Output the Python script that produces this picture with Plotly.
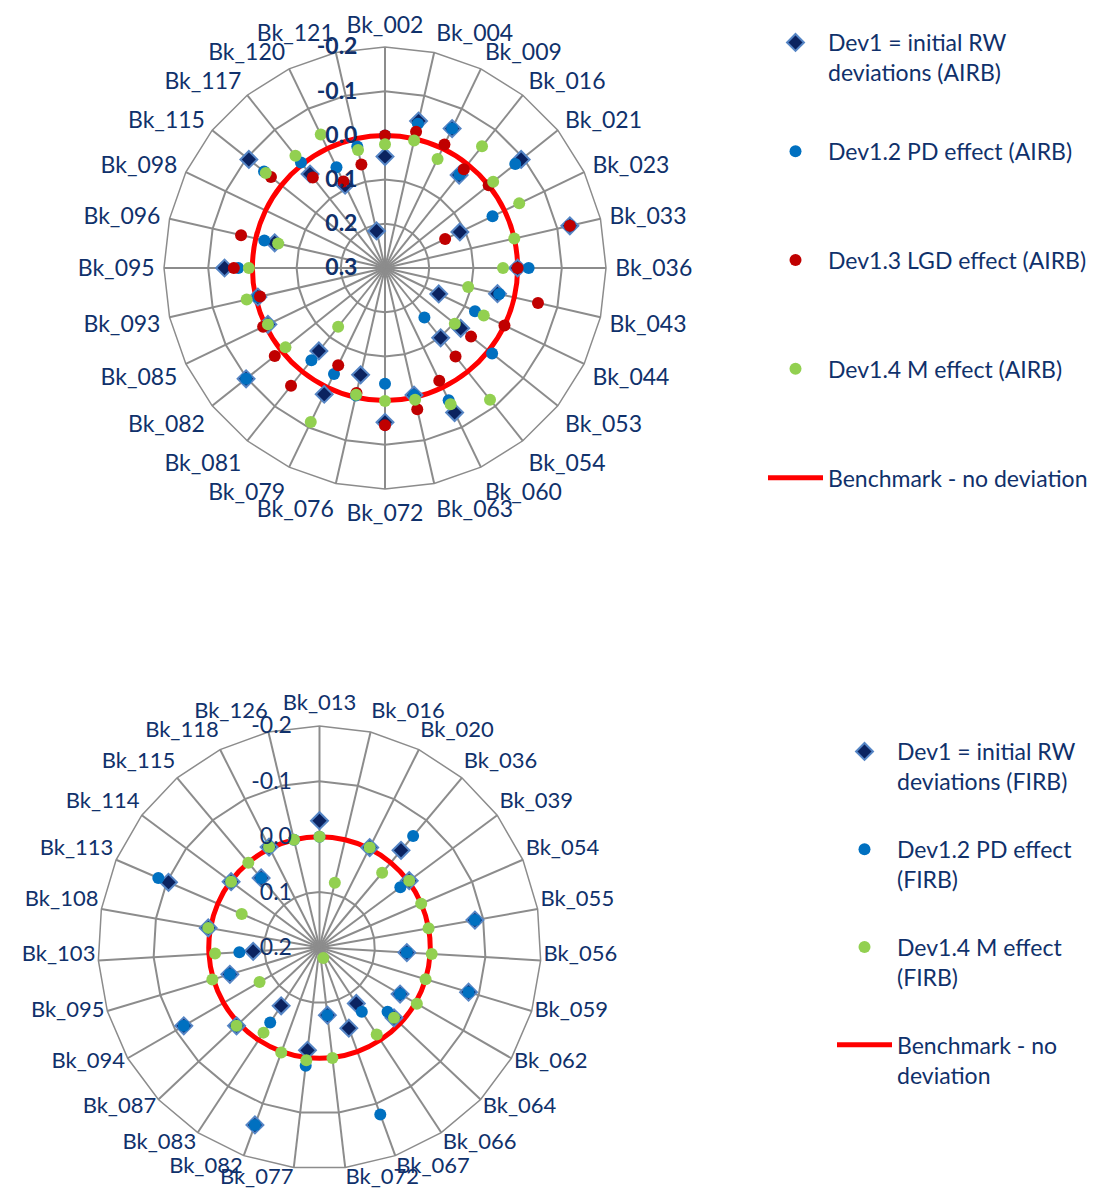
import plotly.graph_objects as go

# ---------------- data ----------------
airb_categories = ["Bk_002", "Bk_004", "Bk_009", "Bk_016", "Bk_021", "Bk_023", "Bk_033",
                   "Bk_036", "Bk_043", "Bk_044", "Bk_053", "Bk_054", "Bk_060", "Bk_063",
                   "Bk_072", "Bk_076", "Bk_079", "Bk_081", "Bk_082", "Bk_085", "Bk_093",
                   "Bk_095", "Bk_096", "Bk_098", "Bk_115", "Bk_117", "Bk_120", "Bk_121"]
airb_dev1 = [0.048, -0.041, -0.050, 0.031, -0.094, 0.112, -0.129, 0.000, 0.039, 0.165,
             0.081, 0.098, -0.063, 0.005, -0.049, 0.052, -0.017, 0.060, -0.102, 0.006,
             0.005, -0.063, 0.044, None, -0.094, 0.028, 0.092, 0.214]
airb_pd = [0.000, -0.035, -0.050, 0.030, -0.077, 0.030, -0.129, -0.025, 0.035, 0.074,
           -0.010, 0.157, -0.032, 0.005, 0.038, 0.004, 0.034, 0.033, -0.102, 0.006,
           0.005, -0.032, 0.020, None, -0.050, -0.005, 0.047, 0.018]
airb_lgd = [0.000, -0.016, -0.010, 0.014, 0.000, 0.149, -0.129, 0.000, -0.055, 0.000,
            0.051, 0.044, 0.017, -0.028, -0.056, 0.010, 0.056, -0.041, -0.019, -0.006,
            0.010, -0.042, -0.034, None, -0.030, 0.038, 0.083, 0.060]
airb_m = [0.020, 0.004, 0.026, -0.052, -0.013, -0.037, 0.000, 0.033, 0.107, 0.052,
          0.098, -0.081, -0.042, -0.006, -0.001, 0.006, -0.087, 0.130, 0.012, 0.006,
          -0.021, -0.008, 0.052, None, -0.045, -0.025, -0.035, 0.026]
airb_benchmark = [0.0] * len(airb_categories)
airb_ticks = [-0.2, -0.1, 0.0, 0.1, 0.2, 0.3]   # outer ring ... centre

firb_categories = ["Bk_013", "Bk_016", "Bk_020", "Bk_036", "Bk_039", "Bk_054", "Bk_055",
                   "Bk_056", "Bk_059", "Bk_062", "Bk_064", "Bk_066", "Bk_067", "Bk_072",
                   "Bk_077", "Bk_082", "Bk_083", "Bk_087", "Bk_094", "Bk_095", "Bk_103",
                   "Bk_108", "Bk_113", "Bk_114", "Bk_115", "Bk_118", "Bk_126"]
firb_dev1 = [-0.029, None, -0.002, -0.029, -0.002, None, -0.085, 0.042, -0.081, 0.032,
             0.015, 0.079, 0.045, 0.077, 0.013, -0.141, 0.074, -0.006, -0.083, 0.031,
             0.080, -0.004, -0.097, 0.001, 0.036, -0.003, None]
firb_pd = [0.000, None, -0.002, -0.063, 0.018, None, -0.085, 0.042, -0.081, 0.032,
           0.031, 0.061, -0.121, 0.077, -0.015, -0.141, 0.038, -0.006, -0.083, 0.031,
           0.055, -0.004, -0.117, 0.001, 0.036, -0.003, 0.000]
firb_m = [0.000, 0.080, -0.002, 0.024, -0.002, 0.000, 0.000, -0.003, 0.000, -0.003,
          0.015, 0.012, 0.180, -0.001, -0.005, -0.002, 0.016, -0.006, 0.075, -0.002,
          0.011, -0.004, 0.047, 0.001, 0.000, -0.003, 0.000]
firb_benchmark = [0.0] * len(firb_categories)
firb_ticks = [-0.2, -0.1, 0.0, 0.1, 0.2]         # outer ring ... centre

# ---------------- style ----------------
W, H = 1117, 1191
NAVY = "#10316B"
GRID = "#8C8C8C"
FONT = "Lato"
FS = 23
C_DEV1 = "#0B2360"
C_DEV1_EDGE = "#5585C5"
C_PD = "#0070C0"
C_LGD = "#C00000"
C_M = "#92D050"
C_BENCH = "#FF0000"

# The value axis of these radar charts runs from the centre (largest value) to the
# outer ring (smallest value); the radial axis therefore measures (centre - value).
AIRB_CENTRE = max(airb_ticks)
FIRB_CENTRE = max(firb_ticks)


def depth(values, centre):
    return [None if v is None else centre - v for v in values]


fig = go.Figure()


def add_series(cats, values, centre, name, polar, legend, rank, marker):
    fig.add_trace(go.Scatterpolar(
        r=depth(values, centre), theta=cats, mode="markers", name=name, subplot=polar,
        legend=legend, legendgroup=legend + str(rank), legendrank=rank,
        marker=marker, customdata=values, hovertemplate="%{theta}: %{customdata}<extra></extra>"))


def add_bench(cats, values, centre, name, polar, legend):
    fig.add_trace(go.Scatterpolar(
        r=depth(list(values) + [values[0]], centre), theta=list(cats) + [cats[0]], mode="lines",
        name=name, subplot=polar, legend=legend, legendgroup=legend + "bench",
        legendrank=900, line=dict(color=C_BENCH, width=5, shape="spline"), hoverinfo="skip"))


diamond = dict(symbol="diamond", size=13, color=C_DEV1, line=dict(color=C_DEV1_EDGE, width=2))
blank = "<br>\u00a0"

# top (AIRB)
add_bench(airb_categories, airb_benchmark, AIRB_CENTRE, "Benchmark - no deviation" + blank, "polar", "legend")
add_series(airb_categories, airb_dev1, AIRB_CENTRE, "Dev1 = initial RW<br>deviations (AIRB)", "polar", "legend", 100, diamond)
add_series(airb_categories, airb_pd, AIRB_CENTRE, "Dev1.2 PD effect (AIRB)" + blank, "polar", "legend", 200,
           dict(symbol="circle", size=12, color=C_PD))
add_series(airb_categories, airb_lgd, AIRB_CENTRE, "Dev1.3 LGD effect (AIRB)" + blank, "polar", "legend", 300,
           dict(symbol="circle", size=12, color=C_LGD))
add_series(airb_categories, airb_m, AIRB_CENTRE, "Dev1.4 M effect (AIRB)" + blank, "polar", "legend", 400,
           dict(symbol="circle", size=12, color=C_M))

# bottom (FIRB)
add_bench(firb_categories, firb_benchmark, FIRB_CENTRE, "Benchmark - no<br>deviation", "polar2", "legend2")
add_series(firb_categories, firb_dev1, FIRB_CENTRE, "Dev1 = initial RW<br>deviations (FIRB)", "polar2", "legend2", 100, diamond)
add_series(firb_categories, firb_pd, FIRB_CENTRE, "Dev1.2 PD effect<br>(FIRB)", "polar2", "legend2", 200,
           dict(symbol="circle", size=12, color=C_PD))
add_series(firb_categories, firb_m, FIRB_CENTRE, "Dev1.4 M effect<br>(FIRB)", "polar2", "legend2", 400,
           dict(symbol="circle", size=12, color=C_M))

# label ring for the bottom chart (category names sit slightly higher, as in the original)
fig.add_trace(go.Scatterpolar(
    r=depth(firb_benchmark, FIRB_CENTRE), theta=firb_categories, mode="lines", subplot="polar3",
    line=dict(color="rgba(0,0,0,0)"), showlegend=False, hoverinfo="skip"))


def polar_layout(cx, cy, rad, ticks, bold, cats, afs, alen, show_labels=True):
    centre = max(ticks)
    return dict(
        domain=dict(x=[(cx - rad) / W, (cx + rad) / W],
                    y=[1 - (cy + rad) / H, 1 - (cy - rad) / H]),
        bgcolor="white",
        gridshape="linear",
        radialaxis=dict(
            range=[0, centre - min(ticks)],
            tickvals=[centre - t for t in ticks],
            ticktext=[f"{t:.1f}" for t in ticks],
            angle=90, side="counterclockwise",
            showline=False, showgrid=True, gridcolor=GRID, gridwidth=1.5,
            ticks="outside", ticklen=19, tickcolor="rgba(0,0,0,0)", tickangle=90,
            tickfont=dict(family=FONT, size=FS, color=NAVY, weight="bold" if bold else "normal"),
            layer="above traces"),
        angularaxis=dict(
            type="category", categoryarray=cats, categoryorder="array",
            direction="clockwise", rotation=90,
            showline=True, linecolor=GRID, linewidth=1.5,
            showgrid=True, gridcolor=GRID, gridwidth=1.5,
            ticks="outside", ticklen=alen, tickcolor="rgba(0,0,0,0)",
            showticklabels=show_labels,
            tickfont=dict(family=FONT, size=afs, color=NAVY)),
    )


def label_ring(cx, cy, rad, ticks, cats, afs):
    centre = max(ticks)
    return dict(
        domain=dict(x=[(cx - rad) / W, (cx + rad) / W],
                    y=[1 - (cy + rad) / H, 1 - (cy - rad) / H]),
        bgcolor="rgba(0,0,0,0)",
        gridshape="linear",
        radialaxis=dict(range=[0, centre - min(ticks)], visible=False),
        angularaxis=dict(
            type="category", categoryarray=cats, categoryorder="array",
            direction="clockwise", rotation=90,
            showline=False, showgrid=False, ticks="", showticklabels=True,
            tickfont=dict(family=FONT, size=afs, color=NAVY)),
    )


fig.update_layout(
    width=W, height=H, margin=dict(l=0, r=0, t=0, b=0),
    paper_bgcolor="white", plot_bgcolor="white",
    font=dict(family=FONT, size=FS, color=NAVY),
    polar=polar_layout(385, 268, 221, airb_ticks, True, airb_categories, FS, 4),
    polar2=polar_layout(319.5, 947.5, 221.5, firb_ticks, False, firb_categories, 22, 0, False),
    polar3=label_ring(319.5, 938.5, 224, firb_ticks, firb_categories, 22),
    legend=dict(x=763 / W, y=1 - 21 / H, xanchor="left", yanchor="top",
                font=dict(family=FONT, size=FS, color=NAVY), bgcolor="rgba(0,0,0,0)",
                tracegroupgap=46, valign="top", traceorder="grouped", itemwidth=55),
    legend2=dict(x=832 / W, y=1 - 730 / H, xanchor="left", yanchor="top",
                 font=dict(family=FONT, size=FS, color=NAVY), bgcolor="rgba(0,0,0,0)",
                 tracegroupgap=35, valign="top", traceorder="grouped", itemwidth=55),
    showlegend=True,
)

fig.write_html("out.html", config={"displayModeBar": False},
               post_script="document.body.style.margin='0px';")
